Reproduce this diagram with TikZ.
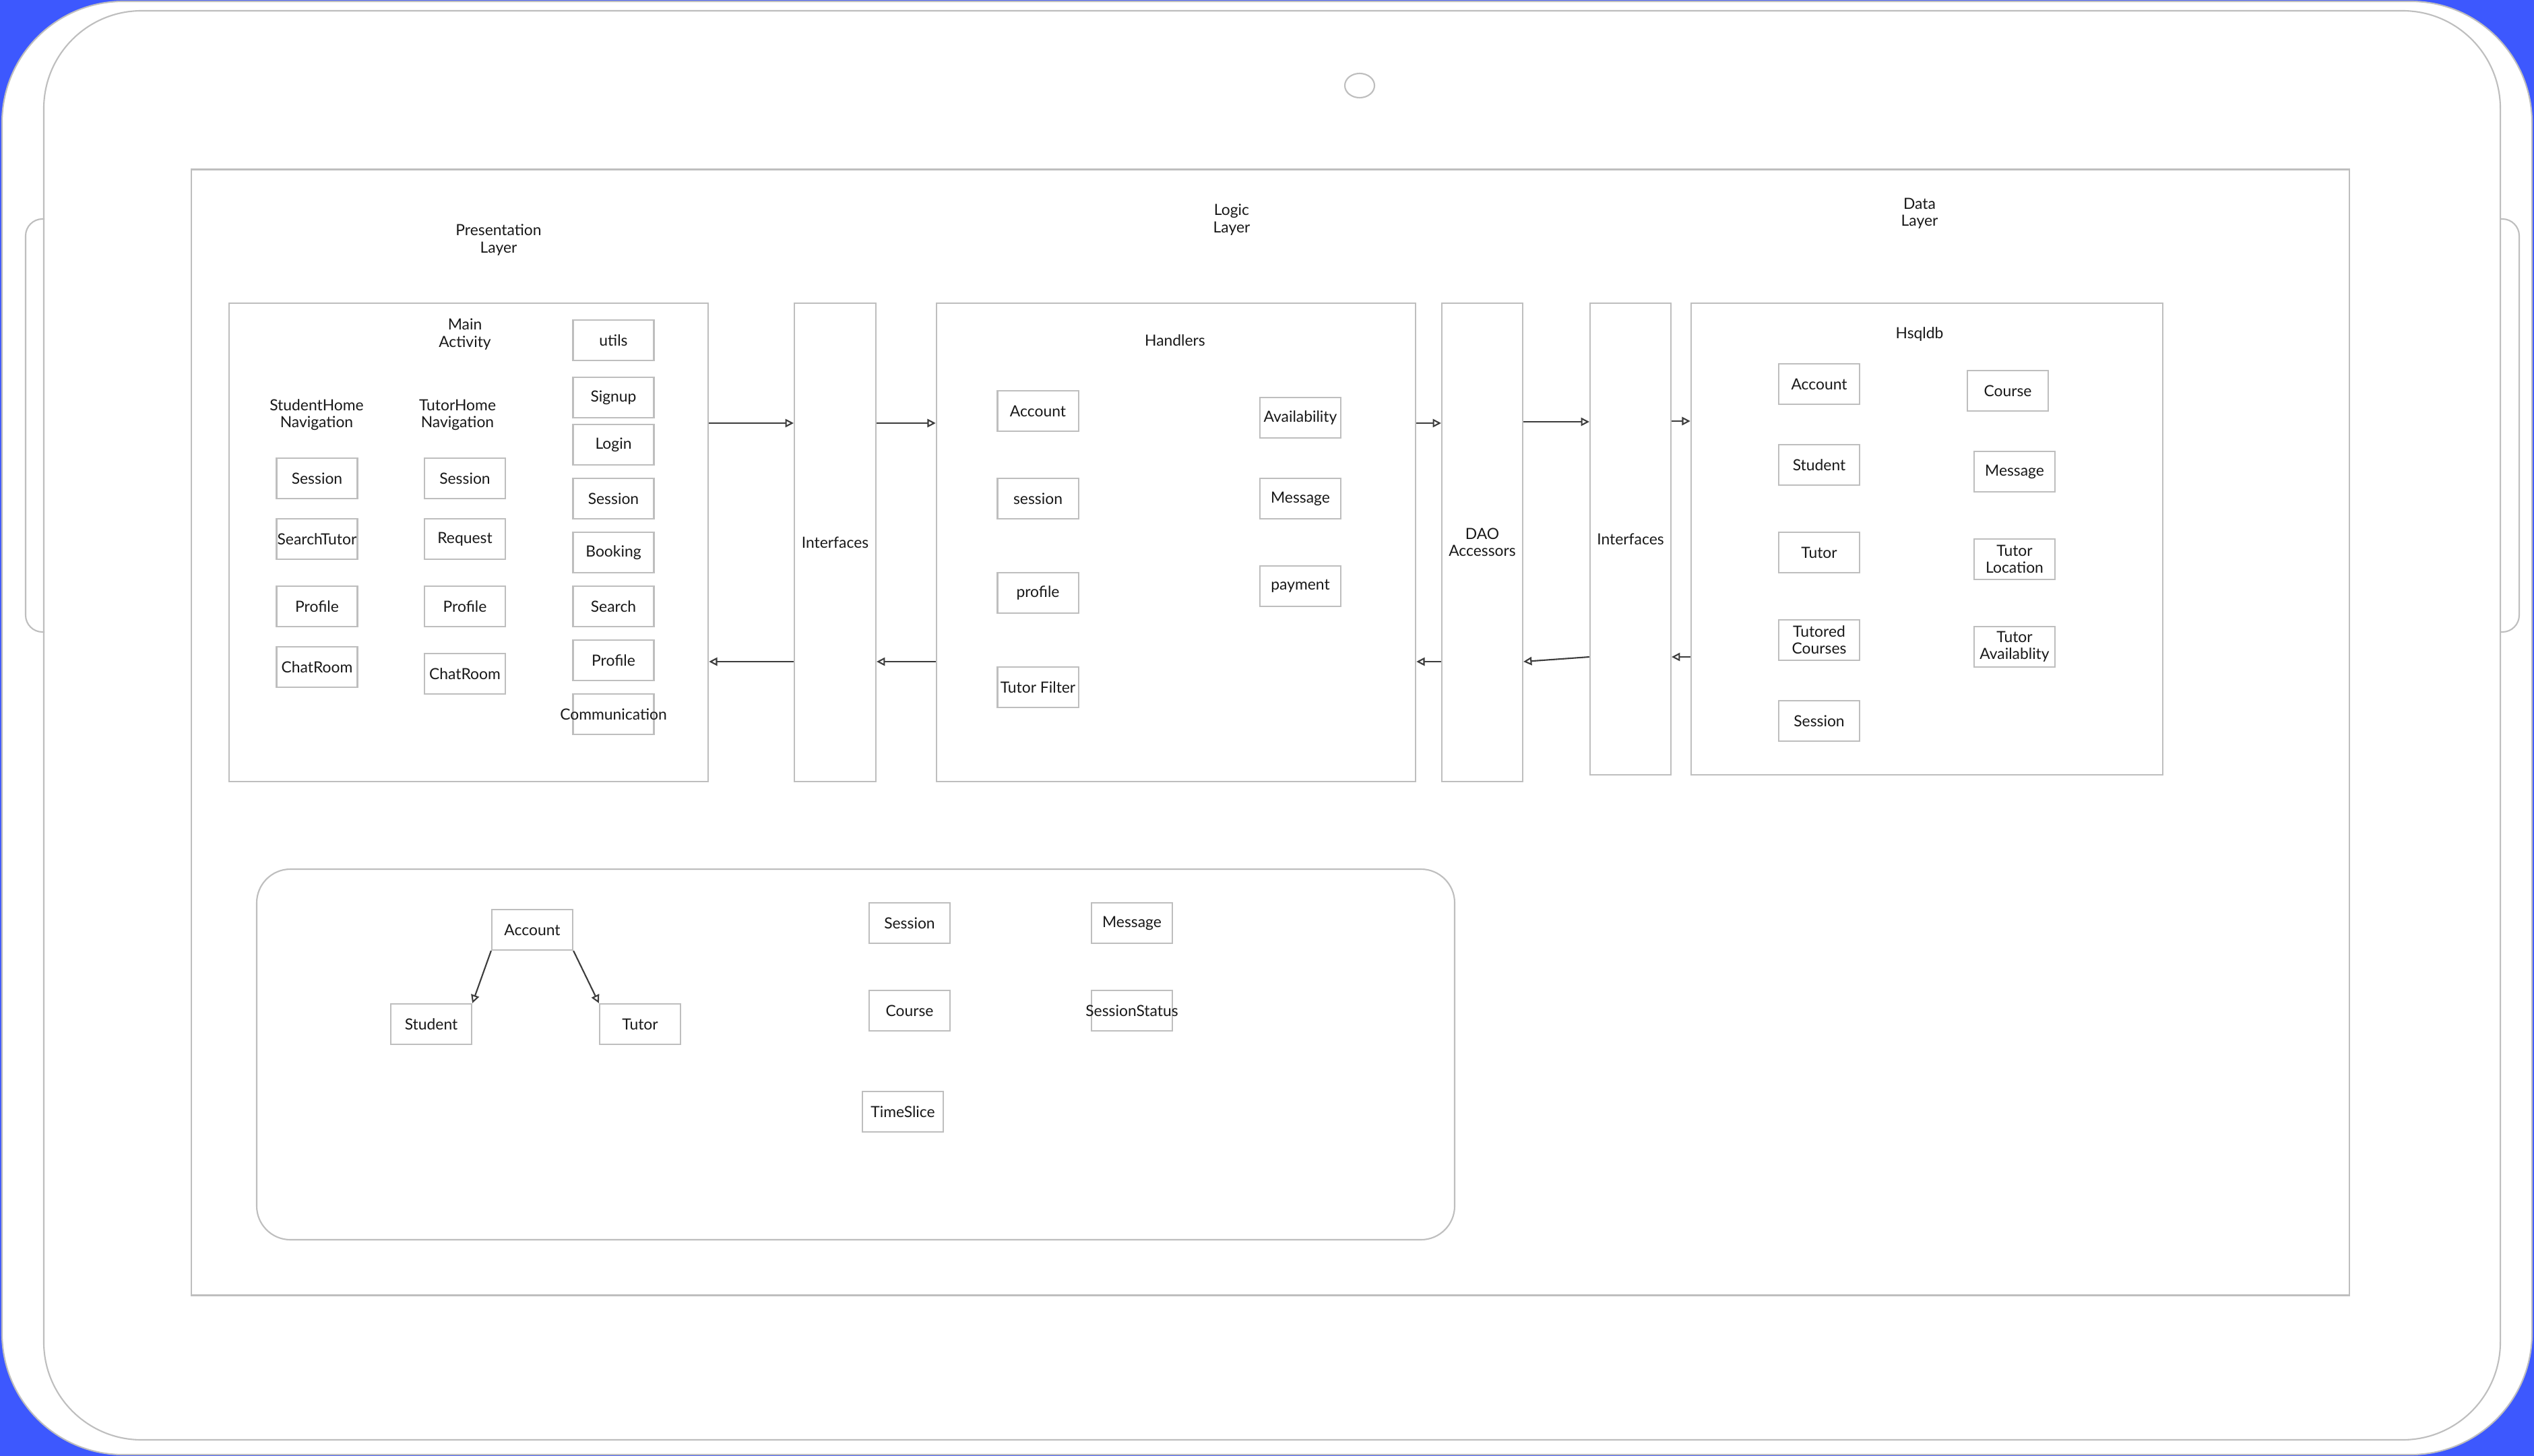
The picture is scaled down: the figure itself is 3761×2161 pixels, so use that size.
\documentclass[tikz,border=0pt]{standalone}
\usepackage{fontspec}
\setmainfont{Lato}
\usetikzlibrary{arrows.meta}
\definecolor{bgblue}{RGB}{61,88,254}
\definecolor{edge}{RGB}{190,190,190}
\definecolor{ink}{RGB}{25,25,25}
\begin{document}
\begin{tikzpicture}[x=0.01cm,y=-0.01cm,
  every node/.style={font=\fontsize{6.5}{7.2}\selectfont, text=ink, align=center},
  frame/.style={draw=edge, line width=0.6pt},
  bx/.style={frame, fill=white, minimum width=1.2cm, minimum height=0.6cm, inner sep=0pt},
  panel/.style={frame, inner sep=0pt},
  lbl/.style={inner sep=0pt},
  arr/.style={draw=ink!85, line width=0.6pt, -{Triangle[open,length=3.5pt,width=3.5pt]}},
]
\useasboundingbox (0,0) rectangle (3761,2161);
% device
\fill[bgblue] (0,0) rectangle (3761,2161);
\draw[frame, fill=white, rounded corners=1.8cm] (3,2) rectangle (3758,2159);
\draw[frame, rounded corners=1.45cm] (65,16) rectangle (3711,2137);
\draw[frame, rounded corners=0.25cm] (66,325) -- (38,325) -- (38,938) -- (66,938);
\draw[frame, rounded corners=0.25cm] (3711,325) -- (3739,325) -- (3739,938) -- (3711,938);
\draw[frame] (2018,127) ellipse [x radius=0.22cm, y radius=0.18cm];
% main frame
\node[panel, minimum width=32.01cm, minimum height=16.70cm] (main) at (1885.5,1087) {};
% layer titles
\node[lbl] (tpres) at (740,356) {Presentation\\Layer};
\node[lbl] (tlogic) at (1828,326) {Logic\\Layer};
\node[lbl] (tdata) at (2849,317) {Data\\Layer};
% panels
\node[panel, minimum width=7.11cm, minimum height=7.10cm] (pres) at (695.5,805) {};
\node[panel, minimum width=1.21cm, minimum height=7.10cm] (if1) at (1239.5,805) {Interfaces};
\node[panel, minimum width=7.11cm, minimum height=7.10cm] (logic) at (1745.5,805) {};
\node[panel, minimum width=1.20cm, minimum height=7.10cm] (dao) at (2200,805) {DAO\\Accessors};
\node[panel, minimum width=1.20cm, minimum height=7.00cm] (if2) at (2420,800) {Interfaces};
\node[panel, minimum width=7.00cm, minimum height=7.00cm] (data) at (2860,800) {};
% presentation content
\node[lbl] (mainact) at (690,496) {Main\\Activity};
\node[lbl] (shn) at (470,616) {StudentHome\\Navigation};
\node[lbl] (thn) at (679,616) {TutorHome\\Navigation};
\node[bx] (s1) at (470.5,710) {Session};
\node[bx] (s2) at (470.5,800) {\makebox[1.2cm]{SearchTutor}};
\node[bx] (s3) at (470.5,900) {Profile};
\node[bx] (s4) at (470.5,990) {ChatRoom};
\node[bx] (t1) at (690,710) {Session};
\node[bx] (t2) at (690,800) {Request};
\node[bx] (t3) at (690,900) {Profile};
\node[bx] (t4) at (690,1000) {ChatRoom};
\node[bx] (u1) at (910.5,505) {utils};
\node[bx] (u2) at (910.5,590) {Signup};
\node[bx] (u3) at (910.5,660) {Login};
\node[bx] (u4) at (910.5,740) {Session};
\node[bx] (u5) at (910.5,820) {Booking};
\node[bx] (u6) at (910.5,900) {Search};
\node[bx] (u7) at (910.5,980) {Profile};
\node[bx] (u8) at (910.5,1060) {\makebox[1.2cm]{Communication}};
% logic content
\node[lbl] (handlers) at (1744,505) {Handlers};
\node[bx] (h1) at (1540.5,610) {Account};
\node[bx] (h2) at (1540.5,740) {session};
\node[bx] (h3) at (1540.5,880) {profile};
\node[bx] (h4) at (1540.5,1020) {Tutor Filter};
\node[bx] (h5) at (1930,620) {Availability};
\node[bx] (h6) at (1930,740) {Message};
\node[bx] (h7) at (1930,870) {payment};
% data content
\node[lbl] (hsql) at (2849,496) {Hsqldb};
\node[bx] (d1) at (2700,570) {Account};
\node[bx] (d2) at (2700,690) {Student};
\node[bx] (d3) at (2700,820) {Tutor};
\node[bx] (d4) at (2700,950) {Tutored\\Courses};
\node[bx] (d5) at (2700,1070) {Session};
\node[bx] (d6) at (2980,580) {Course};
\node[bx] (d7) at (2990,700) {Message};
\node[bx] (d8) at (2990,830) {Tutor\\Location};
\node[bx] (d9) at (2990,960) {Tutor\\Availablity};
% arrows between layers
\coordinate (upA) at (0,628);
\coordinate (upB) at (0,626);
\coordinate (upC) at (0,625);
\coordinate (dnA) at (0,975);
\coordinate (dnB) at (0,982);
\draw[arr] (pres.east |- upA) -- (if1.west |- upA);
\draw[arr] (if1.east |- upA) -- (logic.west |- upA);
\draw[arr] (logic.east |- upA) -- (dao.west |- upA);
\draw[arr] (dao.east |- upB) -- (if2.west |- upB);
\draw[arr] (if2.east |- upC) -- (data.west |- upC);
\draw[arr] (data.west |- dnA) -- (if2.east |- dnA);
\draw[arr] (if2.west |- dnA) -- (dao.east |- dnB);
\draw[arr] (dao.west |- dnB) -- (logic.east |- dnB);
\draw[arr] (logic.west |- dnB) -- (if1.east |- dnB);
\draw[arr] (if1.west |- dnB) -- (pres.east |- dnB);
% bottom model panel
\draw[frame, rounded corners=0.5cm] (381,1290) rectangle (2159,1840);
\node[bx] (m1) at (790,1380) {Account};
\node[bx] (m2) at (640,1520) {Student};
\node[bx] (m3) at (950,1520) {Tutor};
\node[bx] (m4) at (1350,1370) {Session};
\node[bx] (m5) at (1680,1370) {Message};
\node[bx] (m6) at (1350,1500) {Course};
\node[bx] (m7) at (1680,1500) {\makebox[1.2cm]{SessionStatus}};
\node[bx] (m8) at (1340,1650) {TimeSlice};
\draw[arr] (m1.south west) -- (m2.north east);
\draw[arr] (m1.south east) -- (m3.north west);
\end{tikzpicture}
\end{document}
